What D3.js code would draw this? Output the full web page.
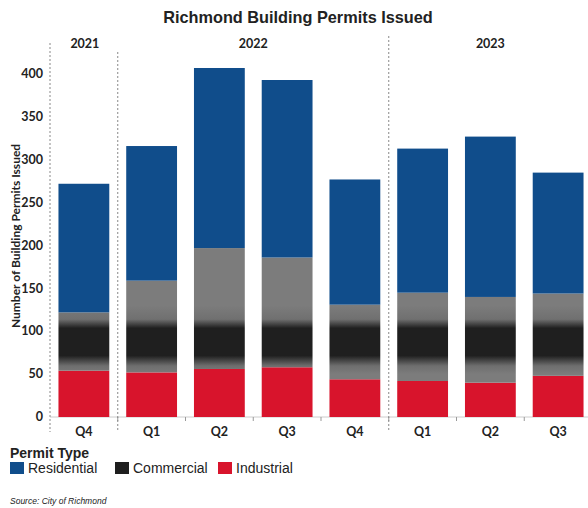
<!DOCTYPE html>
<html>
<head>
<meta charset="utf-8">
<script src="https://cdn.jsdelivr.net/npm/d3@7"></script>
<style>
  body { margin: 0; background: #fff; }
  svg { display: block; }
</style>
</head>
<body>
<svg width="588" height="508"></svg>
<script>
// Data
const years = ["2021", "2022", "2023"];
const quarters = ["Q4", "Q1", "Q2", "Q3", "Q4", "Q1", "Q2", "Q3"];
const quarterYears = ["2021", "2022", "2022", "2022", "2022", "2023", "2023", "2023"];
const industrial = [54, 52, 56, 58, 44, 42, 40, 48];
const commercial = [68, 107, 141, 128, 87, 103, 100, 96];
const residential = [150, 157, 210, 207, 146, 168, 187, 141];
const yTicks = [0, 50, 100, 150, 200, 250, 300, 350, 400];
const seriesNames = ["Industrial", "Commercial", "Residential"];
const legendOrder = ["Residential", "Commercial", "Industrial"];

const colors = { Residential: "#104d8b", Commercial: "url(#comGrad)", Industrial: "#d8142c" };
const legendColors = { Residential: "#104d8b", Commercial: "#1e1e1e", Industrial: "#d8142c" };

const svg = d3.select("svg");
const font = "Lato, 'Open Sans', sans-serif";

// build table for stacking
const rows = quarters.map((q, i) => ({
    key: i,
    Industrial: industrial[i],
    Commercial: commercial[i],
    Residential: residential[i]
}));
const stacked = d3.stack().keys(seriesNames)(rows);

const x = d3.scaleBand()
    .domain(d3.range(quarters.length))
    .range([50, 592])
    .paddingInner(0.25)
    .paddingOuter(0.125);

const y = d3.scaleLinear().domain([0, 400]).range([417, 74]);

// gray fill with a dark band across the middle (scan look of the original)
const grad = svg.append("defs").append("linearGradient")
    .attr("id", "comGrad")
    .attr("gradientUnits", "userSpaceOnUse")
    .attr("x1", 0).attr("x2", 0)
    .attr("y1", y(130)).attr("y2", y(50));
[[0, "#7c7c7c"], [0.2, "#707070"], [0.33, "#1f1f1f"], [0.73, "#1f1f1f"], [0.88, "#6e6e6e"], [1, "#7c7c7c"]]
    .forEach(([o, c]) => grad.append("stop").attr("offset", o).attr("stop-color", c));

// title
svg.append("text")
    .attr("x", 298).attr("y", 23)
    .attr("text-anchor", "middle")
    .style("font-family", "'Liberation Sans', Arial, sans-serif")
    .style("font-weight", "bold")
    .style("font-size", "16.3px")
    .attr("fill", "#222")
    .text("Richmond Building Permits Issued");

// baseline
svg.append("line")
    .attr("x1", 50).attr("x2", 588)
    .attr("y1", y(0)).attr("y2", y(0))
    .attr("stroke", "#ccc");

// bars
svg.append("g")
    .selectAll("g")
    .data(stacked)
    .join("g")
    .attr("fill", d => colors[d.key])
    .selectAll("rect")
    .data(d => d)
    .join("rect")
    .attr("x", (d, i) => x(i))
    .attr("width", x.bandwidth())
    .attr("y", d => y(d[1]))
    .attr("height", d => y(d[0]) - y(d[1]));

// y axis (dotted line + labels)
svg.append("line")
    .attr("x1", 50).attr("x2", 50)
    .attr("y1", 43).attr("y2", 432)
    .attr("stroke", "#888")
    .attr("stroke-dasharray", "2,2");

svg.append("g")
    .selectAll("text")
    .data(yTicks)
    .join("text")
    .attr("x", 43)
    .attr("y", d => y(d) + 1)
    .attr("text-anchor", "end")
    .attr("dominant-baseline", "middle")
    .style("font-family", font)
    .style("font-weight", "bold")
    .style("font-size", "12.5px")
    .attr("fill", "#222")
    .text(d => d);

svg.append("text")
    .attr("transform", "translate(20,236) rotate(-90)")
    .attr("text-anchor", "middle")
    .style("font-family", font)
    .style("font-weight", "bold")
    .style("font-size", "12px")
    .attr("fill", "#222")
    .text("Number of Building Permits Issued");

// x tick marks between bars
const step = x.step();
svg.append("g")
    .selectAll("line")
    .data(d3.range(1, quarters.length))
    .join("line")
    .attr("x1", i => x(i) - (step - x.bandwidth()) / 2)
    .attr("x2", i => x(i) - (step - x.bandwidth()) / 2)
    .attr("y1", y(0)).attr("y2", y(0) + 4)
    .attr("stroke", "#999");

// quarter labels
svg.append("g")
    .selectAll("text")
    .data(quarters)
    .join("text")
    .attr("x", (d, i) => x(i) + x.bandwidth() / 2)
    .attr("y", 436)
    .attr("text-anchor", "middle")
    .style("font-family", font)
    .style("font-weight", "bold")
    .style("font-size", "12.5px")
    .attr("fill", "#222")
    .text(d => d);

// year separators and labels
years.forEach((yr, k) => {
    const idx = quarterYears.map((q, i) => q === yr ? i : -1).filter(i => i >= 0);
    const first = idx[0], last = idx[idx.length - 1];
    const left = k === 0 ? 50 : x(first) - (step - x.bandwidth()) / 2;
    if (k > 0) {
        svg.append("line")
            .attr("x1", left).attr("x2", left)
            .attr("y1", k === 1 ? 52 : 36).attr("y2", 432)
            .attr("stroke", "#888")
            .attr("stroke-dasharray", "2,2");
    }
    const cx = k === 0 ? x(first) + x.bandwidth() / 2 + 1
        : (x(first) + x(last) + x.bandwidth()) / 2;
    svg.append("text")
        .attr("x", cx)
        .attr("y", 48)
        .attr("text-anchor", "middle")
        .style("font-family", font)
        .style("font-weight", "bold")
        .style("font-size", "12.5px")
        .attr("fill", "#222")
        .text(yr);
});

// legend
svg.append("text")
    .attr("x", 10).attr("y", 458)
    .style("font-family", "'Liberation Sans', Arial, sans-serif")
    .style("font-weight", "bold")
    .style("font-size", "14px")
    .attr("fill", "#222")
    .text("Permit Type");

const legendX = [10, 115, 218];
const lg = svg.append("g")
    .selectAll("g")
    .data(legendOrder)
    .join("g")
    .attr("transform", (d, i) => `translate(${legendX[i]},462)`);
lg.append("rect")
    .attr("width", 14).attr("height", 12)
    .attr("fill", d => legendColors[d]);
lg.append("text")
    .attr("x", 18).attr("y", 11)
    .style("font-family", "'Liberation Sans', Arial, sans-serif")
    .style("font-size", "14px")
    .attr("fill", "#222")
    .text(d => d);

// source
svg.append("text")
    .attr("x", 10).attr("y", 504)
    .style("font-family", "'Liberation Sans', Arial, sans-serif")
    .style("font-style", "italic")
    .style("font-size", "8.5px")
    .attr("fill", "#222")
    .text("Source: City of Richmond");
</script>
</body>
</html>
